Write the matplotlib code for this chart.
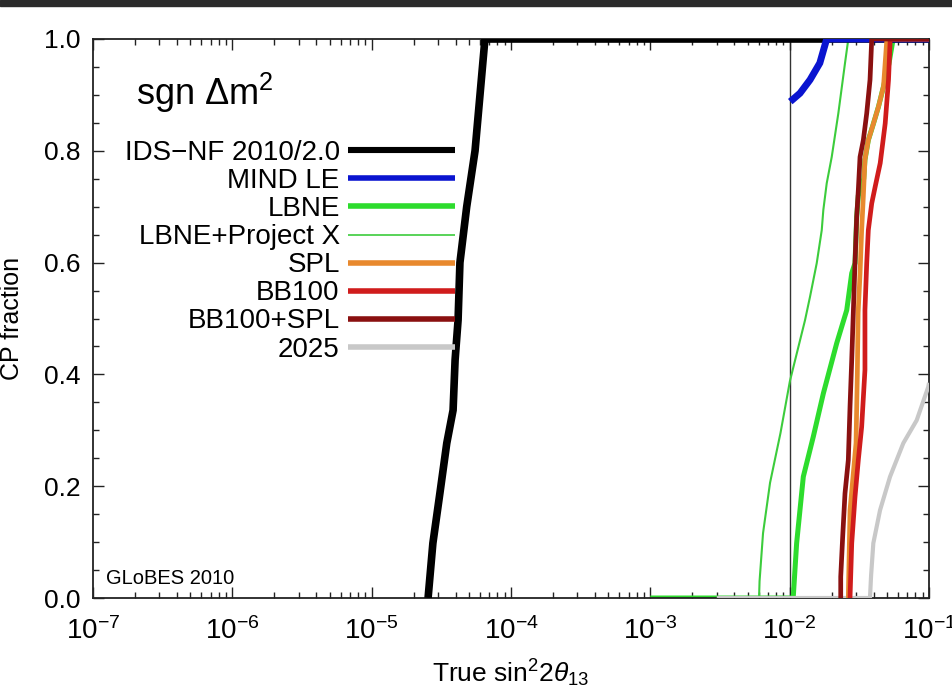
import matplotlib
matplotlib.use("Agg")
import matplotlib.pyplot as plt
from matplotlib.lines import Line2D
from matplotlib.patches import Rectangle
from matplotlib.ticker import LogLocator, MultipleLocator, NullFormatter

plt.rcParams["font.family"] = ["Liberation Sans", "DejaVu Sans"]
plt.rcParams["mathtext.fontset"] = "custom"
plt.rcParams["mathtext.rm"] = "Liberation Sans"
plt.rcParams["mathtext.it"] = "Liberation Sans:italic"
plt.rcParams["mathtext.bf"] = "Liberation Sans:bold"

# CP fraction versus true sin^2 2theta13 for each setup
ids_x = [2.54e-5, 2.75e-5, 3.09e-5, 3.46e-5, 3.84e-5, 3.97e-5, 4.17e-5, 4.30e-5, 4.81e-5, 5.52e-5, 6.50e-5, 1e-1]
ids_y = [0.0, 0.098, 0.188, 0.277, 0.336, 0.426, 0.497, 0.60, 0.70, 0.80, 1.0, 1.0]

mind_x = [0.0101, 0.01186, 0.0140, 0.01646, 0.01844, 1e-1]
mind_y = [0.888, 0.903, 0.927, 0.957, 1.0, 1.0]

lbne_x = [1e-3, 0.0106, 0.01122, 0.01253, 0.01479, 0.01745, 0.02177, 0.02568, 0.02789,
          0.02944, 0.03028, 0.0311, 0.0340, 0.0347, 0.03668, 0.03996, 0.0434, 0.04714,
          0.0515, 0.0553, 1e-1]
lbne_y = [0.0, 0.0, 0.098, 0.217, 0.289, 0.366, 0.456, 0.515, 0.581,
          0.599, 0.682, 0.72, 0.75, 0.784, 0.819, 0.849, 0.879, 0.915,
          0.955, 1.0, 1.0]

lbnepx_x = [0.00603, 0.00608, 0.00644, 0.00723, 0.00859, 0.01004, 0.01289, 0.0140, 0.01564,
            0.01699, 0.01744, 0.01845, 0.02004, 0.02235, 0.02496, 0.02636, 1e-1]
lbnepx_y = [0.0, 0.03, 0.116, 0.206, 0.295, 0.388, 0.497, 0.539, 0.599,
            0.658, 0.694, 0.742, 0.789, 0.867, 0.957, 1.0, 1.0]

spl_x = [0.02636, 0.02711, 0.02994, 0.03059, 0.0310, 0.03199, 0.03286, 0.03378, 0.0347,
         0.03668, 0.03996, 0.0434, 0.04714, 0.04985, 1e-1]
spl_y = [0.0, 0.157, 0.277, 0.40, 0.51, 0.58, 0.658, 0.718, 0.784,
         0.819, 0.849, 0.879, 0.915, 1.0, 1.0]

bb100_x = [0.02711, 0.02789, 0.02944, 0.0311, 0.03286, 0.0347, 0.0347, 0.03573, 0.03668,
           0.03881, 0.04111, 0.04466, 0.04849, 0.05122, 0.05268, 1e-1]
bb100_y = [0.0, 0.098, 0.181, 0.247, 0.306, 0.408, 0.515, 0.599, 0.658,
           0.706, 0.736, 0.778, 0.849, 0.927, 1.0, 1.0]

bbspl_x = [0.02325, 0.02325, 0.02402, 0.02495, 0.02636, 0.02711, 0.02789, 0.02862, 0.02944,
           0.03028, 0.0311, 0.03199, 0.03378, 0.03573, 0.03773, 0.03881, 1e-1]
bbspl_y = [0.0, 0.038, 0.110, 0.187, 0.247, 0.342, 0.426, 0.51, 0.599,
           0.682, 0.73, 0.789, 0.819, 0.867, 0.927, 1.0, 1.0]

y2025_x = [3e-3, 0.0377, 0.0384, 0.03985, 0.04452, 0.05252, 0.06542, 0.08161, 0.0989, 1e-1]
y2025_y = [0.0, 0.0, 0.04, 0.098, 0.157, 0.217, 0.277, 0.318, 0.378, 0.385]

labels = ["IDS\u2212NF 2010/2.0", "MIND LE", "LBNE", "LBNE+Project X",
          "SPL", "BB100", "BB100+SPL", "2025"]
colors = ["#000000", "#0a14d0", "#2ddc2d", "#3ccc3c", "#e8892e", "#d01c1c", "#8a1010", "#c8c8c8"]
plot_widths = [5.5, 5.0, 3.6, 1.5, 3.4, 3.4, 3.4, 3.0]
legend_widths = [4.4, 4.0, 4.0, 1.2, 4.0, 4.0, 4.0, 4.0]

series = [(ids_x, ids_y), (mind_x, mind_y), (lbne_x, lbne_y), (lbnepx_x, lbnepx_y),
          (spl_x, spl_y), (bb100_x, bb100_y), (bbspl_x, bbspl_y), (y2025_x, y2025_y)]
zorders = [3, 4, 2, 2, 6, 7, 8, 5]

fig = plt.figure(figsize=(9.53, 6.96), dpi=100)
fig.patches.append(Rectangle((0, 1 - 6 / 696), 1, 6 / 696, transform=fig.transFigure,
                             color="#2b2b2b", zorder=0))
ax = fig.add_axes([93 / 953, 1 - 598 / 696, 836 / 953, 559 / 696])

ax.axvline(1e-2, color="#333333", lw=1.0, zorder=1)

for (xs, ys), c, lw, z in zip(series, colors, plot_widths, zorders):
    ax.plot(xs, ys, color=c, lw=lw, solid_capstyle="butt", solid_joinstyle="miter", zorder=z)

ax.set_xscale("log")
ax.set_xlim(1e-7, 1e-1)
ax.set_ylim(0, 1)
ax.xaxis.set_major_locator(LogLocator(base=10, numticks=10))
ax.xaxis.set_minor_locator(LogLocator(base=10, subs=range(2, 10), numticks=100))
ax.xaxis.set_minor_formatter(NullFormatter())
ax.yaxis.set_major_locator(MultipleLocator(0.2))
ax.yaxis.set_minor_locator(MultipleLocator(0.05))
ax.yaxis.set_major_formatter(plt.FuncFormatter(lambda v, p: f"{v:.1f}"))

ax.tick_params(which="both", direction="in", top=True, right=True, width=1.0, color="#222222")
ax.tick_params(which="major", length=8)
ax.tick_params(which="minor", length=4.5)
ax.tick_params(axis="y", labelsize=19, pad=9)
ax.tick_params(axis="x", labelsize=20, pad=14)
for s in ax.spines.values():
    s.set_linewidth(1.3)
    s.set_color("#222222")

ax.set_ylabel("CP fraction", fontsize=18, labelpad=14)
ax.set_xlabel(r"True sin$^2$2$\theta_{13}$", fontsize=19, labelpad=9)

ax.text(0.052, 0.882, r"sgn $\Delta\mathrm{m}^2$", transform=ax.transAxes,
        fontsize=26, ha="left", va="baseline")
ax.text(0.015, 0.025, "GLoBES 2010", transform=ax.transAxes, fontsize=14.5,
        ha="left", va="baseline")

handles = [Line2D([], [], color=c, lw=lw, solid_capstyle="butt")
           for c, lw in zip(colors, legend_widths)]
leg = ax.legend(handles, labels, loc="upper right",
                bbox_to_anchor=(455 / 953, 1 - 140 / 696), bbox_transform=fig.transFigure,
                frameon=False, markerfirst=False, fontsize=20, handlelength=3.85,
                handletextpad=0.3, labelspacing=0.075, borderpad=0, borderaxespad=0)

fig.savefig("out.png", dpi=100)
